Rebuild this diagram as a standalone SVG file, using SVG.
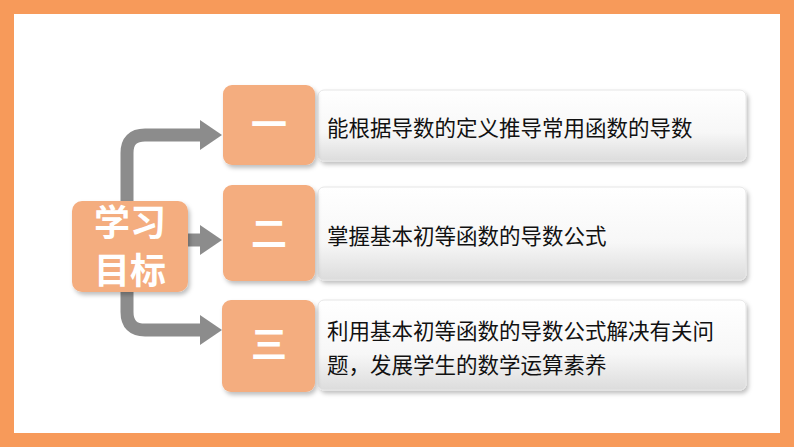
<svg xmlns="http://www.w3.org/2000/svg" width="794" height="447" viewBox="0 0 794 447">
<style>
.num{fill:#f4ad7f;}
.card{fill:url(#g);stroke:#e6e6e6;stroke-width:1;}
.t{font-family:"Noto Sans CJK SC",sans-serif;font-size:21.5px;fill:#111;}
.n{font-family:"Noto Sans CJK SC",sans-serif;font-size:36px;fill:#fff;font-weight:bold;text-anchor:middle;}
.c{fill:none;stroke:#8c8c8c;stroke-width:13;}
.h{fill:#8c8c8c;}
</style>
<defs>
<linearGradient id="g" x1="0" y1="0" x2="0" y2="1"><stop offset="0" stop-color="#ffffff"/><stop offset="0.6" stop-color="#f7f7f7"/><stop offset="1" stop-color="#dcdcdc"/></linearGradient>
<filter id="s" x="-10%" y="-10%" width="130%" height="140%"><feDropShadow dx="2" dy="3" stdDeviation="2" flood-color="#000" flood-opacity="0.25"/></filter>
</defs>
<rect width="794" height="447" fill="#f79a5a"/>
<rect x="14" y="14" width="766" height="419" fill="#fff"/>
<g id="connectors">
<path class="c" d="M203 135 H145 Q127 135 127 153 V312 Q127 330 145 330 H203"/>
<path class="c" d="M185 240 H203"/>
<polygon class="h" points="200,120 222,135 200,150"/>
<polygon class="h" points="200,225 222,240 200,255"/>
<polygon class="h" points="200,315 222,330 200,345"/>
</g>
<g id="center"><rect class="num" x="72" y="201" width="116" height="91" rx="10" filter="url(#s)"/>
<text class="n" x="130" y="236" font-size="32">学习</text><text class="n" x="130" y="284" font-size="32">目标</text></g>
<g id="n1"><rect class="card" x="318" y="90" width="428" height="71" rx="6" filter="url(#s)"/><rect class="num" x="223" y="85" width="92" height="80" rx="9" filter="url(#s)"/>
<text class="n" x="269" y="138">一</text><text class="t" x="327" y="136">能根据导数的定义推导常用函数的导数</text></g>
<g id="n2"><rect class="card" x="318" y="187" width="428" height="93" rx="6" filter="url(#s)"/><rect class="num" x="223" y="185" width="92" height="96" rx="9" filter="url(#s)"/>
<text class="n" x="269" y="247">二</text><text class="t" x="327" y="244">掌握基本初等函数的导数公式</text></g>
<g id="n3"><rect class="card" x="318" y="300" width="428" height="90" rx="6" filter="url(#s)"/><rect class="num" x="222" y="300" width="93" height="92" rx="9" filter="url(#s)"/>
<text class="n" x="269" y="358">三</text><text class="t" x="327" y="339">利用基本初等函数的导数公式解决有关问</text><text class="t" x="327" y="373">题，发展学生的数学运算素养</text></g>
</svg>
